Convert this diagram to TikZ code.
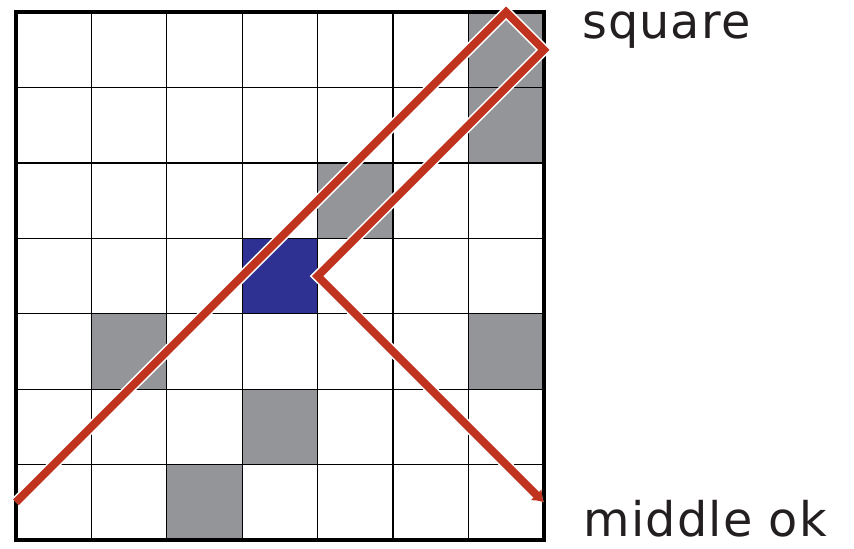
\documentclass[tikz,border=0pt]{standalone}
\usepackage{fontspec}
\usetikzlibrary{arrows.meta,positioning}
\newfontfamily\labelfont[LetterSpace=2.5]{DejaVu Sans}
\definecolor{ink}{HTML}{000000}
\definecolor{labelink}{HTML}{231F20}
\definecolor{cellgrey}{HTML}{939598}
\definecolor{navy}{HTML}{2E3192}
\definecolor{rust}{HTML}{BF331F}
\tikzset{
  cell/.style={fill=#1,draw=ink,line width=0.5pt},
  gridline/.style={draw=ink,line width=0.5pt},
  frame/.style={draw=ink,line width=1.6pt},
  trail/.style={draw=rust,line width=3pt,preaction={draw=white,line width=4.2pt},-{Latex[length=4pt,width=6pt]}},
  tag/.style={font=\labelfont\fontsize{18}{22}\selectfont,anchor=base west,inner sep=0pt,text=labelink}
}
\begin{document}
\begin{tikzpicture}
  \useasboundingbox (-0.212,-0.106) rectangle (11.114,7.162);
  % shaded cells
  \foreach \x/\y in {6/6,6/5,4/4,1/2,6/2,3/1,2/0}
    \draw[cell=cellgrey] (\x,\y) rectangle ++(1,1);
  \draw[cell=navy] (3,3) rectangle ++(1,1);
  \draw[gridline] (0,0) grid (7,7);
  \draw[frame] (0,0) rectangle (7,7);
  % route
  \coordinate (start) at (0,0.5);
  \coordinate (apex) at (6.5,7);
  \coordinate (corner) at (7,6.5);
  \coordinate (middle) at (4,3.5);
  \coordinate (finish) at (7,0.5);
  \draw[trail] (start) -- (apex) -- (corner) -- (middle) -- (finish);
  \node[tag] (sq) at (7.5,6.645) {square};
  \node[tag] (mid) at (7.52,0.046) {middle ok};
\end{tikzpicture}
\end{document}
